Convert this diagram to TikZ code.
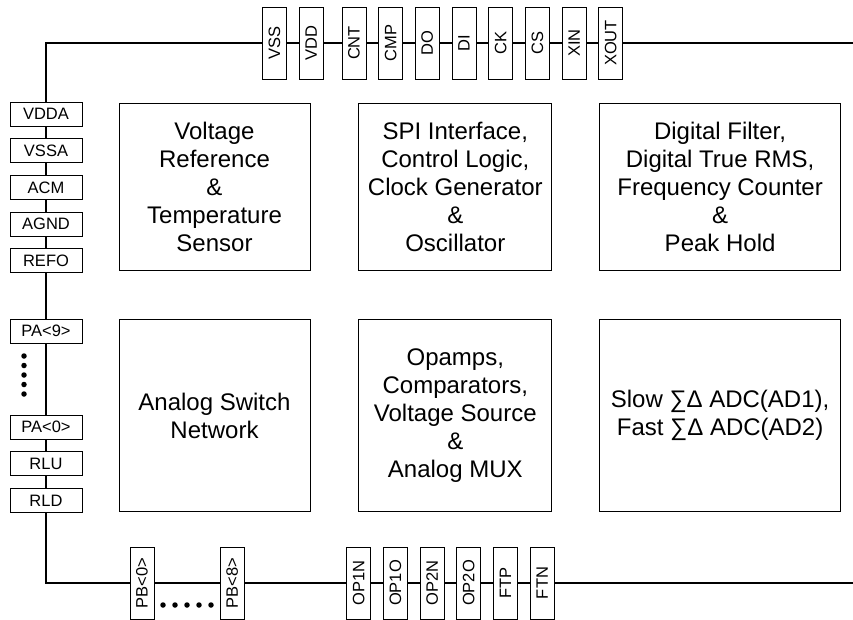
\documentclass[tikz,border=0pt]{standalone}
\usepackage{fontspec}
\setmainfont{Liberation Sans}
\usetikzlibrary{positioning}

\tikzset{
  block/.style={rectangle, draw=black, line width=0.8pt, align=center, font=\fontsize{24}{28}\selectfont},
  pinbox/.style={rectangle, draw=black, fill=white, line width=0.7pt, inner sep=0pt, font=\fontsize{16.5}{16.5}\selectfont},
  hpin/.style={pinbox, minimum width=72pt, minimum height=24pt},
  vpin/.style={pinbox, minimum width=24pt, minimum height=72pt},
  bus/.style={line width=2.6pt},
  pindot/.style={circle, fill=black, inner sep=0pt, minimum size=5.5pt}
}

\begin{document}
\begin{tikzpicture}[x=1pt, y=-1pt]
    \useasboundingbox (0,0) rectangle (853,619);
    % bus
    \coordinate (busTR) at (853,43);
    \coordinate (busTL) at (46,43);
    \coordinate (busBL) at (46,583);
    \coordinate (busBR) at (853,583);
    \draw[bus] (busTR) -- (busTL) -- (busBL) -- (busBR);

    % function blocks
    \node[block, minimum width=191pt, minimum height=166.5pt] (vref) at (214.5,186.75) {Voltage\\Reference\\\&\\Temperature\\Sensor};
    \node[block, right=48pt of vref, minimum width=193pt, minimum height=166.5pt] (spi) {SPI Interface,\\Control Logic,\\Clock Generator\\\&\\Oscillator};
    \node[block, right=47pt of spi, minimum width=241pt, minimum height=166.5pt] (dfilt) {Digital Filter,\\Digital True RMS,\\Frequency Counter\\\&\\Peak Hold};
    \node[block, below=49pt of vref, minimum width=191pt, minimum height=192pt] (aswitch) {Analog Switch\\Network};
    \node[block, below=49pt of spi, minimum width=193pt, minimum height=192pt] (opamps) {Opamps,\\Comparators,\\Voltage Source\\\&\\Analog MUX};
    \node[block, below=49pt of dfilt, minimum width=241pt, minimum height=192pt] (adc) {Slow ∑Δ ADC(AD1),\\Fast ∑Δ ADC(AD2)};

    % top pins
    \node[vpin] (vss) at (274.5,43) {\rotatebox{90}{VSS}};
    \node[vpin, right=12pt of vss] (vdd) {\rotatebox{90}{VDD}};
    \node[vpin, right=18pt of vdd] (cnt) {\rotatebox{90}{CNT}};
    \node[vpin, right=12pt of cnt] (cmp) {\rotatebox{90}{CMP}};
    \node[vpin, right=12pt of cmp] (do) {\rotatebox{90}{DO}};
    \node[vpin, right=12pt of do] (di) {\rotatebox{90}{DI}};
    \node[vpin, right=12pt of di] (ck) {\rotatebox{90}{CK}};
    \node[vpin, right=12pt of ck] (cs) {\rotatebox{90}{CS}};
    \node[vpin, right=12pt of cs] (xin) {\rotatebox{90}{XIN}};
    \node[vpin, right=12pt of xin] (xout) {\rotatebox{90}{XOUT}};

    % left pins
    \node[hpin] (vdda) at (46,114) {VDDA};
    \node[hpin, below=12pt of vdda] (vssa) {VSSA};
    \node[hpin, below=12pt of vssa] (acm) {ACM};
    \node[hpin, below=12pt of acm] (agnd) {AGND};
    \node[hpin, below=12pt of agnd] (refo) {REFO};
    \node[hpin] (pa9) at (46,331) {PA<9>};
    \node[hpin] (pa0) at (46,427) {PA<0>};
    \node[hpin, below=12pt of pa0] (rlu) {RLU};
    \node[hpin, below=12pt of rlu] (rld) {RLD};
    \node[pindot] (ldot1) at (24,356) {};
    \node[pindot] (ldot2) at (24,365.5) {};
    \node[pindot] (ldot3) at (24,375) {};
    \node[pindot] (ldot4) at (24,384.5) {};
    \node[pindot] (ldot5) at (24,394) {};

    % bottom pins
    \node[vpin] (pb0) at (142,583) {\rotatebox{90}{PB<0>}};
    \node[vpin] (pb8) at (232.3,583) {\rotatebox{90}{PB<8>}};
    \node[pindot] (bdot1) at (163,605) {};
    \node[pindot] (bdot2) at (175,605) {};
    \node[pindot] (bdot3) at (187,605) {};
    \node[pindot] (bdot4) at (199,605) {};
    \node[pindot] (bdot5) at (211,605) {};
    \node[vpin] (op1n) at (358.7,583) {\rotatebox{90}{OP1N}};
    \node[vpin, right=12pt of op1n] (op1o) {\rotatebox{90}{OP1O}};
    \node[vpin, right=12pt of op1o] (op2n) {\rotatebox{90}{OP2N}};
    \node[vpin, right=12pt of op2n] (op2o) {\rotatebox{90}{OP2O}};
    \node[vpin, right=12pt of op2o] (ftp) {\rotatebox{90}{FTP}};
    \node[vpin, right=12pt of ftp] (ftn) {\rotatebox{90}{FTN}};
\end{tikzpicture}
\end{document}
